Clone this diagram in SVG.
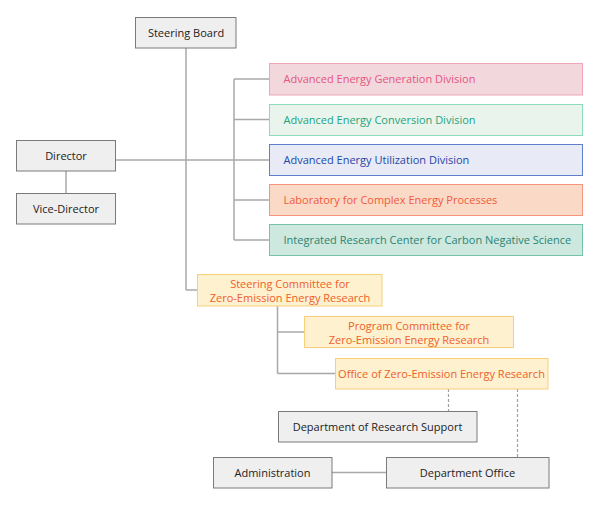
<svg xmlns="http://www.w3.org/2000/svg" width="595" height="510" viewBox="0 0 595 510">
<style>
text{font-family:"Open Sans","Noto Sans","Liberation Sans",sans-serif;font-size:11px;}
.g rect{fill:#efefef;stroke:#7a7a7a;stroke-width:1;}
.g text{fill:#222;text-anchor:middle;}
.y rect{fill:#fdf1cf;stroke:#f7cf7a;stroke-width:1;}
.y text{fill:#f0602a;text-anchor:middle;}
.conn line,.conn polyline{stroke:#a8a8a8;stroke-width:1.5;fill:none;}
.conn .d{stroke:#a0a0a0;stroke-width:1.2;stroke-dasharray:3,2;}
</style>
<rect width="595" height="510" fill="#fff"/>
<g class="conn">
<line x1="186" y1="48" x2="186" y2="290"/>
<polyline points="186,290 197,290"/>
<line x1="115" y1="160" x2="269" y2="160"/>
<line x1="66" y1="171" x2="66" y2="193"/>
<line x1="234" y1="79" x2="234" y2="240"/>
<line x1="234" y1="79" x2="269" y2="79"/>
<line x1="234" y1="119.5" x2="269" y2="119.5"/>
<line x1="234" y1="200" x2="269" y2="200"/>
<line x1="234" y1="240" x2="269" y2="240"/>
<line x1="277.5" y1="306" x2="277.5" y2="373.5"/>
<line x1="277.5" y1="332" x2="304" y2="332"/>
<line x1="277.5" y1="373.5" x2="335" y2="373.5"/>
<line class="d" x1="448.5" y1="389" x2="448.5" y2="411.5"/>
<line class="d" x1="517.5" y1="389" x2="517.5" y2="457"/>
<line x1="332" y1="472.5" x2="386" y2="472.5"/>
</g>
<g id="steering-board" class="g"><rect x="135.5" y="17.5" width="100.5" height="30.5"/><text x="186" y="37">Steering Board</text></g>
<g id="director" class="g"><rect x="16.5" y="140.5" width="99" height="30.5"/><text x="66" y="160">Director</text></g>
<g id="vice-director" class="g"><rect x="16.5" y="193.5" width="99" height="30.5"/><text x="66" y="213">Vice-Director</text></g>
<g id="div1"><rect x="269.5" y="63.5" width="313" height="31.5" fill="#f2d8dd" stroke="#f0a6b6"/><text x="283.5" y="83" fill="#e5557f">Advanced Energy Generation Division</text></g>
<g id="div2"><rect x="269.5" y="104.5" width="313" height="31" fill="#e9f5ec" stroke="#8fdabb"/><text x="283.5" y="124" fill="#1ea37c">Advanced Energy Conversion Division</text></g>
<g id="div3"><rect x="269.5" y="144.5" width="313" height="31" fill="#e8eaf6" stroke="#5f80cc"/><text x="283.5" y="164" fill="#2447a6">Advanced Energy Utilization Division</text></g>
<g id="div4"><rect x="269.5" y="184.5" width="313" height="31" fill="#fbd9c7" stroke="#f4957c"/><text x="283.5" y="204" fill="#f05a3a">Laboratory for Complex Energy Processes</text></g>
<g id="div5"><rect x="269.5" y="224.5" width="313" height="31" fill="#cde8de" stroke="#74c3aa"/><text x="283.5" y="244" fill="#2a8373">Integrated Research Center for Carbon Negative Science</text></g>
<g id="steering-committee" class="y"><rect x="197.5" y="274.5" width="184.5" height="31.5"/><text x="290" y="287.5">Steering Committee for</text><text x="290" y="301.5">Zero-Emission Energy Research</text></g>
<g id="program-committee" class="y"><rect x="304.5" y="316.5" width="209" height="31"/><text x="409" y="329.5">Program Committee for</text><text x="409" y="343.5">Zero-Emission Energy Research</text></g>
<g id="office" class="y"><rect x="335.5" y="358.5" width="212.5" height="30.5"/><text x="441.5" y="378">Office of Zero-Emission Energy Research</text></g>
<g id="dept-research-support" class="g"><rect x="278.5" y="411.5" width="198.5" height="30.5"/><text x="377.5" y="431">Department of Research Support</text></g>
<g id="administration" class="g"><rect x="213.5" y="457.5" width="118.5" height="30.5"/><text x="272.5" y="477">Administration</text></g>
<g id="department-office" class="g"><rect x="386.5" y="457.5" width="162.5" height="30.5"/><text x="467.5" y="477">Department Office</text></g>
</svg>
